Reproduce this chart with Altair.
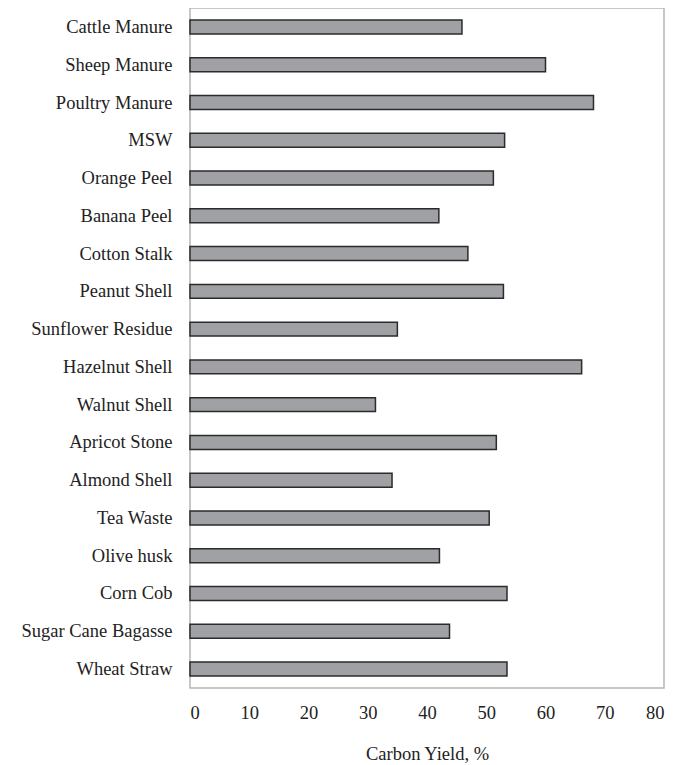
import altair as alt
import pandas as pd

categories = ["Cattle Manure", "Sheep Manure", "Poultry Manure", "MSW", "Orange Peel",
              "Banana Peel", "Cotton Stalk", "Peanut Shell", "Sunflower Residue",
              "Hazelnut Shell", "Walnut Shell", "Apricot Stone", "Almond Shell",
              "Tea Waste", "Olive husk", "Corn Cob", "Sugar Cane Bagasse", "Wheat Straw"]
carbon_yield = [45.9, 60.0, 68.1, 53.1, 51.2, 42.0, 46.9, 52.9, 35.0,
                66.1, 31.3, 51.7, 34.1, 50.5, 42.1, 53.5, 43.8, 53.5]

df = pd.DataFrame({"Feedstock": categories, "Yield": carbon_yield})

FONT = "Liberation Serif"

chart = alt.Chart(df).mark_bar(
    color="#a0a1a5", stroke="#2b2b2b", strokeWidth=1.5
).encode(
    x=alt.X("Yield:Q", title="Carbon Yield, %",
            scale=alt.Scale(domain=[0, 80], nice=False),
            axis=alt.Axis(values=list(range(0, 81, 10)), grid=False, domain=False,
                          ticks=False, labelPadding=15, titlePadding=23,
                          labelFont=FONT, labelFontSize=18.5, labelColor="#222",
                          titleFont=FONT, titleFontSize=18.5, titleFontWeight="normal",
                          titleColor="#222")),
    y=alt.Y("Feedstock:N", sort=categories, title=None,
            scale=alt.Scale(paddingInner=0.63, paddingOuter=0.32),
            axis=alt.Axis(domain=False, ticks=False, grid=False, labelPadding=18,
                          labelFont=FONT, labelFontSize=18.5, labelColor="#222"))
).properties(
    width=474, height=680, padding={"left": 12, "top": 0, "right": 5, "bottom": 5}
).configure_view(
    stroke="#b5b5b5", strokeWidth=1.5
)

chart.save("out.html", embed_options={"renderer": "svg", "actions": False})
